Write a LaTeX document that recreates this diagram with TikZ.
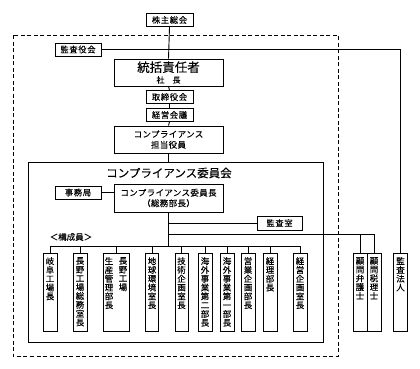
\documentclass[tikz,border=0pt]{standalone}
\usepackage{fontspec}
\setmainfont{Noto Sans CJK JP}[FakeBold=0.15]
\newcommand\fsz[2]{\fontsize{#1}{#2}\selectfont}
\newcommand\lsp{\addfontfeatures{LetterSpace=8}}
\begin{document}
\begin{tikzpicture}[x=1pt,y=-1pt,
  bx/.style={draw,line width=0.9pt,inner sep=0pt,minimum width=47pt,minimum height=13pt,font=\fsz{8.3}{9}\lsp},
  wide/.style={draw,line width=0.9pt,inner sep=0pt,minimum width=109pt,minimum height=27pt,align=center},
  mb/.style={draw,line width=0.9pt,inner sep=0pt,minimum width=14pt,minimum height=78pt,anchor=north},
  vt/.style={inner sep=0pt,anchor=north,align=center,font=\fsz{8.5}{8.8},yshift=-4pt},
  ln/.style={line width=0.9pt}]
\useasboundingbox (0,0) rectangle (420,368);
% dashed frame
\draw[line width=1pt,dash pattern=on 4pt off 2.5pt] (13,35) rectangle (338,356);
% top chain
\node[bx] (kabu) at (169.5,20) {株主総会};
\node[bx,minimum width=46pt] (kansa) at (78,49.5) {監査役会};
\node[wide] (tokatsu) at (168.5,72.5) {{\fsz{12.5}{14}統括責任者}\\[-1pt]{\fsz{8}{9}社　長}};
\node[bx] (tori) at (169.5,97) {取締役会};
\node[bx] (keiei) at (169.5,115) {経営会議};
\node[wide,font=\fsz{8.5}{10.5}\addfontfeatures{LetterSpace=4}] (tanto) at (168.5,139.5) {コンプライアンス\\担当役員};
% committee
\node[draw,line width=0.9pt,inner sep=0pt,minimum width=295pt,minimum height=180pt,anchor=north west] (com) at (28,162) {};
\node[inner sep=0pt,font=\fsz{11.5}{12}] (title) at (169,173) {コンプライアンス委員会};
\node[bx,minimum width=46pt] (jimu) at (78,192.5) {事務局};
\node[wide,minimum height=28pt,font=\fsz{8.5}{10.5}\addfontfeatures{LetterSpace=4}] (iincho) at (168.5,198) {コンプライアンス委員長\\（総務部長）};
\node[bx,minimum width=45pt,minimum height=14pt] (kshitsu) at (279.5,223) {監査室};
\node[inner sep=0pt,font=\fsz{8.5}{9}] (kosei) at (71,237) {＜構成員＞};
% members
\node[mb] (m1) at (50,253) {};
\node[vt] at (m1.north) {岐\\阜\\工\\場\\長};
\node[mb] (m2) at (80,253) {};
\node[vt] at (m2.north) {長\\野\\工\\場\\総\\務\\室\\長};
\node[mb,minimum width=26pt] (m3) at (116,253) {};
\node[vt] at ([xshift=-7pt]m3.north) {生\\産\\管\\理\\部\\長};
\node[vt] at ([xshift=7pt]m3.north) {長\\野\\工\\場};
\node[mb,minimum width=13pt] (m4) at (152,253) {};
\node[vt] at (m4.north) {地\\球\\環\\境\\室\\長};
\node[mb,minimum width=13pt] (m5) at (181.5,253) {};
\node[vt] at (m5.north) {技\\術\\企\\画\\室\\長};
\node[mb] (m6) at (205,253) {};
\node[vt] at (m6.north) {海\\外\\事\\業\\第\\二\\部\\長};
\node[mb] (m7) at (227,253) {};
\node[vt] at (m7.north) {海\\外\\事\\業\\第\\一\\部\\長};
\node[mb] (m8) at (248,253) {};
\node[vt] at (m8.north) {営\\業\\企\\画\\部\\長};
\node[mb] (m9) at (270,253) {};
\node[vt] at (m9.north) {経\\理\\部\\長};
\node[mb] (m10) at (300,253) {};
\node[vt] at (m10.north) {経\\営\\企\\画\\室\\長};
% outside
\node[mb] (k1) at (360,253) {};
\node[vt] at (k1.north) {顧\\問\\弁\\護\\士};
\node[mb] (k2) at (374,253) {};
\node[vt] at (k2.north) {顧\\問\\税\\理\\士};
\node[mb] (hojin) at (400.5,253) {};
\node[vt] at (hojin.north) {監\\査\\法\\人};
% connectors
\draw[ln] (kabu.south) -- (tokatsu.north);
\draw[ln] (kansa.east) -| (hojin.north);
\draw[ln] (tokatsu.south) -- (tori.north);
\draw[ln] (tori.south) -- (keiei.north);
\draw[ln] (keiei.south) -- (tanto.north);
\draw[ln] (tanto.south) -- (tanto.south |- com.north);
\draw[ln] (jimu.east) -- (iincho.west |- jimu.east);
\coordinate (j1) at (168.5,223);
\coordinate (j2) at (168.5,234);
\coordinate (j3) at (168.5,246);
\draw[ln] (iincho.south) -- (j3);
\draw[ln] (j1) -- (kshitsu.west);
\draw[ln] (j2) -| (k2.north);
\draw[ln] (k1.north |- j2) -- (k1.north);
\draw[ln] (m1.north |- j3) -- (m10.north |- j3);
\foreach \m in {m1,m2,m3,m4,m5,m6,m7,m8,m9,m10}
  \draw[ln] (\m.north |- j3) -- (\m.north);
\end{tikzpicture}
\end{document}
